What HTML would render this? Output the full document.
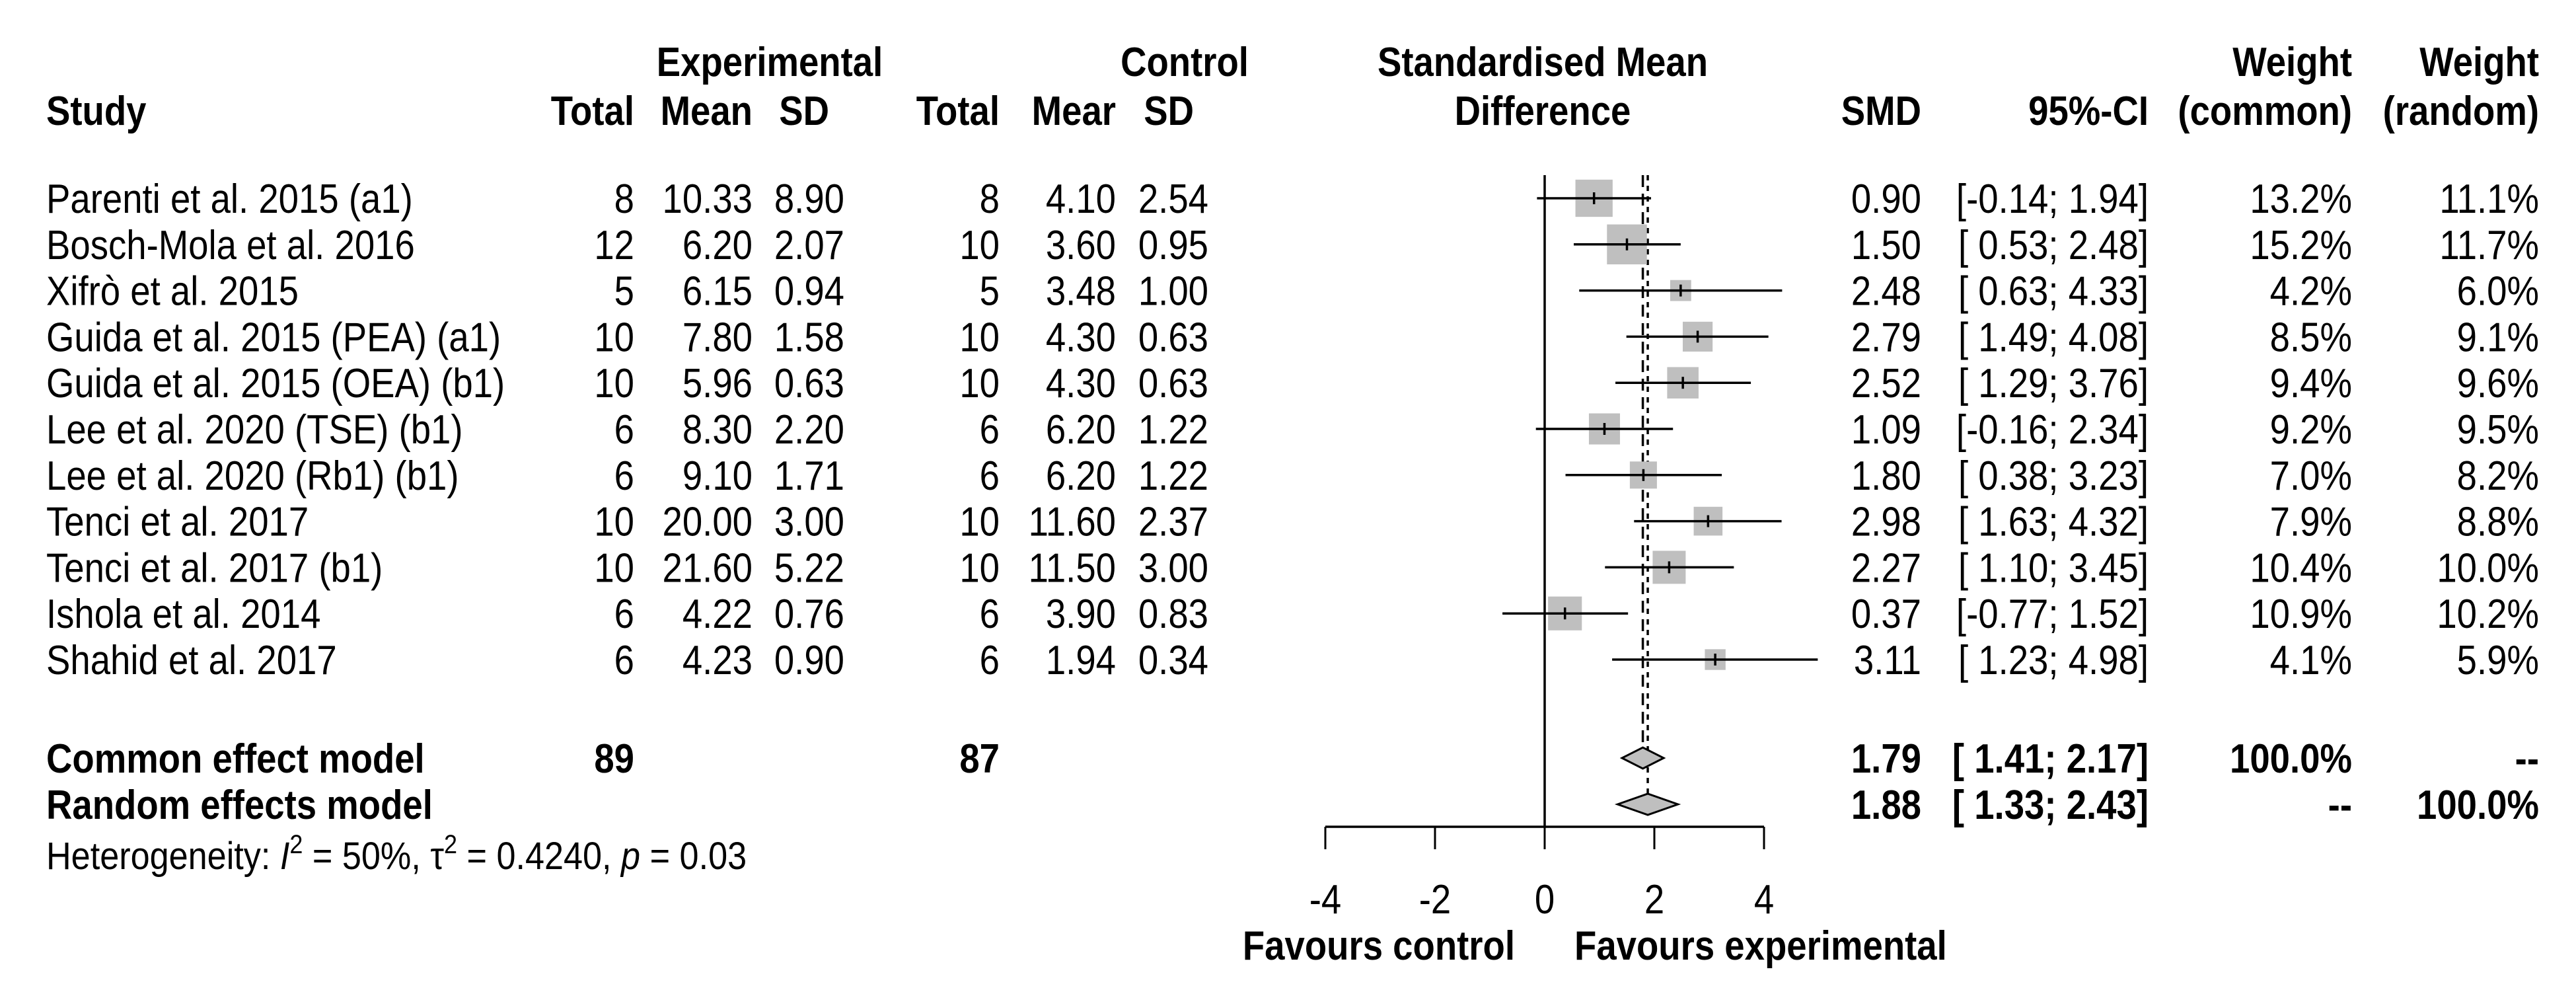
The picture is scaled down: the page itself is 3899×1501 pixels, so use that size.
<!DOCTYPE html>
<html><head><meta charset="utf-8"><style>
html,body{margin:0;padding:0;background:#fff;}
svg{display:block;}
text{font-family:"Liberation Sans",Arial,sans-serif;fill:#000;}
</style></head>
<body>
<svg id="plot" width="3899" height="1501" viewBox="0 0 3899 1501" xmlns="http://www.w3.org/2000/svg"></svg>
<script>
const studies = ["Parenti et al. 2015 (a1)","Bosch-Mola et al. 2016","Xifrò et al. 2015","Guida et al. 2015 (PEA) (a1)","Guida et al. 2015 (OEA) (b1)","Lee et al. 2020 (TSE)  (b1)","Lee et al. 2020 (Rb1) (b1)","Tenci et al. 2017","Tenci et al. 2017 (b1)","Ishola et al. 2014","Shahid et al. 2017"];
const eTotal = [8,12,5,10,10,6,6,10,10,6,6];
const eMean = [10.33,6.20,6.15,7.80,5.96,8.30,9.10,20.00,21.60,4.22,4.23];
const eSD = [8.90,2.07,0.94,1.58,0.63,2.20,1.71,3.00,5.22,0.76,0.90];
const cTotal = [8,10,5,10,10,6,6,10,10,6,6];
const cMean = [4.10,3.60,3.48,4.30,4.30,6.20,6.20,11.60,11.50,3.90,1.94];
const cSD = [2.54,0.95,1.00,0.63,0.63,1.22,1.22,2.37,3.00,0.83,0.34];
const smd = [0.90,1.50,2.48,2.79,2.52,1.09,1.80,2.98,2.27,0.37,3.11];
const lower = [-0.14,0.53,0.63,1.49,1.29,-0.16,0.38,1.63,1.10,-0.77,1.23];
const upper = [1.94,2.48,4.33,4.08,3.76,2.34,3.23,4.32,3.45,1.52,4.98];
const wCommon = [13.2,15.2,4.2,8.5,9.4,9.2,7.0,7.9,10.4,10.9,4.1];
const wRandom = [11.1,11.7,6.0,9.1,9.6,9.5,8.2,8.8,10.0,10.2,5.9];
const pooledLabels = ["Common effect model","Random effects model"];
const pooledSMD = [1.79,1.88];
const pooledLower = [1.41,1.33];
const pooledUpper = [2.17,2.43];
const totalsE = [89];
const totalsC = [87];
const xTicks = [-4,-2,0,2,4];

const NS = "http://www.w3.org/2000/svg";
const svg = document.getElementById('plot');
const X0 = 2338, XU = 83;
function xs(v){ return X0 + v*XU; }
const ROW0 = 300, ROWH = 69.8;
function ys(i){ return ROW0 + i*ROWH; }
const YC = 1147, YR = 1217, AXY = 1251;
const SX = 0.88;

function txt(x, y, s, anchor, bold, name, size){
  const t = document.createElementNS(NS,'text');
  t.setAttribute('transform','translate('+x+','+(y+22)+') scale('+SX+',1)');
  t.setAttribute('text-anchor', anchor);
  t.setAttribute('font-size', size||62);
  if(bold) t.setAttribute('font-weight','bold');
  t.textContent = s;
  
  
  svg.appendChild(t);
  return t;
}
function line(x1,y1,x2,y2,w,name,dash){
  const l = document.createElementNS(NS,'line');
  l.setAttribute('x1',x1);l.setAttribute('y1',y1);l.setAttribute('x2',x2);l.setAttribute('y2',y2);
  l.setAttribute('stroke','#000');l.setAttribute('stroke-width',w);
  if(dash) l.setAttribute('stroke-dasharray',dash);
  
  
  svg.appendChild(l);
  return l;
}
function ci(l,u){ return '[' + (l<0?'':' ') + l.toFixed(2) + '; ' + u.toFixed(2) + ']'; }

// headers
txt(1165,93,'Experimental','middle',true,'experimental-header');
txt(1793,93,'Control','middle',true,'control-header');
txt(2335,93,'Standardised Mean','middle',true,'smd-header-line1');
txt(2335,167,'Difference','middle',true,'smd-header-line2');
txt(3560,93,'Weight','end',true,'weight-common-header1');
txt(3843,93,'Weight','end',true,'weight-random-header1');
txt(70,167,'Study','start',true,'study-header');
txt(960,167,'Total','end',true,'exp-total-header');
txt(1139,167,'Mean','end',true,'exp-mean-header');
txt(1255,167,'SD','end',true,'exp-sd-header');
txt(1513,167,'Total','end',true,'ctrl-total-header');
txt(1689,167,'Mear','end',true,'ctrl-mean-header');
txt(1807,167,'SD','end',true,'ctrl-sd-header');
txt(2908,167,'SMD','end',true,'smd-col-header');
txt(3252,167,'95%-CI','end',true,'ci-col-header');
txt(3560,167,'(common)','end',true,'weight-common-header2');
txt(3843,167,'(random)','end',true,'weight-random-header2');

// reference lines
line(X0,265,X0,AXY,3.5,'null-effect-line');
line(xs(pooledSMD[0]),265,xs(pooledSMD[0]),YC-16,3.5,'common-effect-line','18,10');
line(xs(pooledSMD[1]),265,xs(pooledSMD[1]),YR-16,3.5,'random-effect-line','8,8');

// study rows
for(let i=0;i<studies.length;i++){
  const y = ys(i);
  txt(70,y,studies[i],'start',false,'study-name');
  txt(960,y,String(eTotal[i]),'end',false,'exp-total');
  txt(1139,y,eMean[i].toFixed(2),'end',false,'exp-mean');
  txt(1278,y,eSD[i].toFixed(2),'end',false,'exp-sd');
  txt(1513,y,String(cTotal[i]),'end',false,'ctrl-total');
  txt(1689,y,cMean[i].toFixed(2),'end',false,'ctrl-mean');
  txt(1829,y,cSD[i].toFixed(2),'end',false,'ctrl-sd');
  txt(2908,y,smd[i].toFixed(2),'end',false,'smd-value');
  txt(3252,y,ci(lower[i],upper[i]),'end',false,'ci-value');
  txt(3560,y,wCommon[i].toFixed(1)+'%','end',false,'weight-common');
  txt(3843,y,wRandom[i].toFixed(1)+'%','end',false,'weight-random');
  const s = 15.5*Math.sqrt(wCommon[i]);
  const r = document.createElementNS(NS,'rect');
  r.setAttribute('x', xs(smd[i])-s/2); r.setAttribute('y', y-s/2);
  r.setAttribute('width', s); r.setAttribute('height', s);
  r.setAttribute('fill','#bfbfbf');
  
  
  svg.appendChild(r);
  line(xs(lower[i]),y,xs(upper[i]),y,3.5,'study-ci-line');
  line(xs(smd[i]),y-9,xs(smd[i]),y+9,3.5,'study-point-tick');
}

// pooled rows
const py = [YC, YR];
for(let k=0;k<2;k++){
  const y = py[k];
  txt(70,y,pooledLabels[k],'start',true,'pooled-label');
  txt(2908,y,pooledSMD[k].toFixed(2),'end',true,'pooled-smd');
  txt(3252,y,ci(pooledLower[k],pooledUpper[k]),'end',true,'pooled-ci');
  const d = document.createElementNS(NS,'polygon');
  const l = xs(pooledLower[k]), u = xs(pooledUpper[k]), m = xs(pooledSMD[k]);
  d.setAttribute('points', l+','+y+' '+m+','+(y-16)+' '+u+','+y+' '+m+','+(y+16));
  d.setAttribute('fill','#bfbfbf'); d.setAttribute('stroke','#000'); d.setAttribute('stroke-width','3');
  
  
  svg.appendChild(d);
}
txt(960,YC,String(totalsE[0]),'end',true,'exp-total-sum');
txt(1513,YC,String(totalsC[0]),'end',true,'ctrl-total-sum');
txt(3560,YC,'100.0%','end',true,'common-weight-common');
txt(3843,YC,'--','end',true,'common-weight-random');
txt(3560,YR,'--','end',true,'random-weight-common');
txt(3843,YR,'100.0%','end',true,'random-weight-random');

// heterogeneity
const h = document.createElementNS(NS,'text');
h.setAttribute('transform','translate(70,1315) scale(0.9,1)');
h.setAttribute('font-size','58');
h.innerHTML = 'Heterogeneity: <tspan font-style="italic">I</tspan><tspan dy="-24" font-size="40">2</tspan><tspan dy="24"> = 50%, τ</tspan><tspan dy="-24" font-size="40">2</tspan><tspan dy="24"> = 0.4240, </tspan><tspan font-style="italic">p</tspan> = 0.03';


svg.appendChild(h);

// axis
line(xs(xTicks[0]),AXY,xs(xTicks[xTicks.length-1]),AXY,3.5,'x-axis-line');
for(const v of xTicks){
  line(xs(v),AXY,xs(v),1285,3,'x-axis-tick');
  txt(xs(v),1360,String(v),'middle',false,'x-tick-label');
}
txt(2293,1430,'Favours control','end',true,'favours-control-label');
txt(2383,1430,'Favours experimental','start',true,'favours-experimental-label');
</script>
</body></html>
